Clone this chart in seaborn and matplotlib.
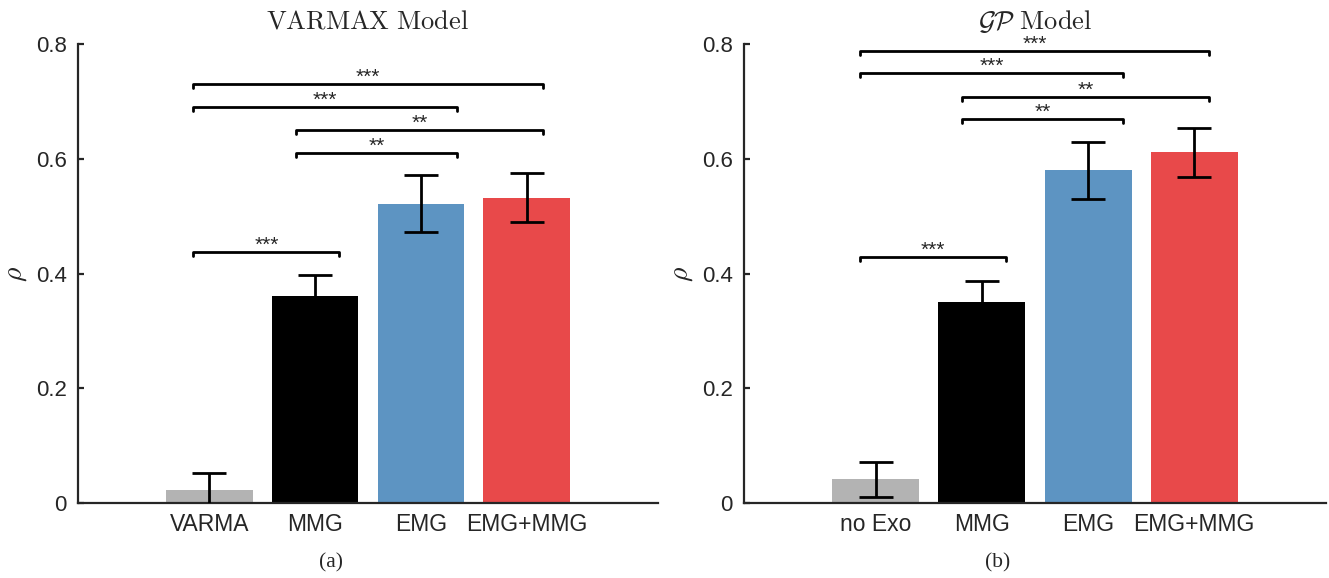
import matplotlib
matplotlib.use('Agg')
import matplotlib.pyplot as plt
import numpy as np
import pandas as pd
import seaborn as sns

# bar data
labels_a = ['VARMA', 'MMG', 'EMG', 'EMG+MMG']
rho_a = [0.023, 0.361, 0.522, 0.532]
err_a = [0.029, 0.036, 0.050, 0.043]

labels_b = ['no Exo', 'MMG', 'EMG', 'EMG+MMG']
rho_b = [0.041, 0.351, 0.580, 0.611]
err_b = [0.030, 0.036, 0.050, 0.043]

colors = ['#b3b3b3', '#000000', '#5d94c2', '#e8494a']

# significance brackets: left x, right x (category units), height, stars
sig_left_a = [-0.15, 0.82, 0.82, -0.15, -0.15]
sig_right_a = [1.23, 2.34, 3.15, 2.34, 3.15]
sig_y_a = [0.437, 0.610, 0.650, 0.690, 0.730]
sig_txt_a = ['***', '**', '**', '***', '***']

sig_left_b = [-0.15, 0.81, 0.81, -0.15, -0.15]
sig_right_b = [1.23, 2.33, 3.14, 2.33, 3.14]
sig_y_b = [0.428, 0.669, 0.708, 0.749, 0.788]
sig_txt_b = ['***', '**', '**', '***', '***']

sns.set_style('ticks')
plt.rcParams['font.family'] = ['Liberation Sans', 'DejaVu Sans']
plt.rcParams['mathtext.fontset'] = 'cm'


def draw_panel(ax, labels, vals, errs, sl, sr, sy, st, title):
    df = pd.DataFrame({'cond': labels, 'rho': vals})
    sns.barplot(data=df, x='cond', y='rho', hue='cond', palette=colors,
                width=0.82, saturation=1, legend=False, ax=ax, linewidth=0)
    ax.errorbar(np.arange(len(labels)), vals, yerr=errs, fmt='none',
                ecolor='black', elinewidth=2, capsize=12.5, capthick=2, zorder=3)
    for x1, x2, y, s in zip(sl, sr, sy, st):
        ax.plot([x1, x1, x2, x2], [y - 0.007, y, y, y - 0.007],
                color='black', lw=2, zorder=3)
        ax.text((x1 + x2) / 2, y + 0.002, s, ha='center', va='baseline',
                fontsize=15)
    ax.set_xlim(-1.24, 4.24)
    ax.set_ylim(0, 0.8)
    ax.set_yticks([0, 0.2, 0.4, 0.6, 0.8])
    ax.set_yticklabels(['0', '0.2', '0.4', '0.6', '0.8'])
    ax.set_xlabel('')
    ax.set_ylabel(r'$\rho$', fontsize=20, labelpad=5)
    ax.set_title(title, fontsize=19, pad=11)
    sns.despine(ax=ax)
    for sp in ['left', 'bottom']:
        ax.spines[sp].set_linewidth(1.6)
        ax.spines[sp].set_color('#262626')
    ax.tick_params(axis='y', direction='in', length=4, width=1.6,
                   labelsize=16, pad=8, colors='#262626')
    ax.tick_params(axis='x', length=0, labelsize=16.5, pad=7, colors='#262626')


fig = plt.figure(figsize=(13.29, 5.78), dpi=100)
ax1 = fig.add_axes([0.0587, 0.1298, 0.4364, 0.794])
ax2 = fig.add_axes([0.5598, 0.1298, 0.4379, 0.794])

draw_panel(ax1, labels_a, rho_a, err_a, sig_left_a, sig_right_a, sig_y_a,
           sig_txt_a, r'$\mathrm{VARMAX\ Model}$')
draw_panel(ax2, labels_b, rho_b, err_b, sig_left_b, sig_right_b, sig_y_b,
           sig_txt_b, r'$\mathcal{GP}\ \mathrm{Model}$')

# sub-captions sit a little left of the axes centres
fig.text(331 / 1329, 0.026, '(a)', ha='center', va='center',
         fontsize=15.5, family=['Liberation Serif', 'DejaVu Serif'])
fig.text(998 / 1329, 0.026, '(b)', ha='center', va='center',
         fontsize=15.5, family=['Liberation Serif', 'DejaVu Serif'])

fig.savefig('out.png', dpi=100)
